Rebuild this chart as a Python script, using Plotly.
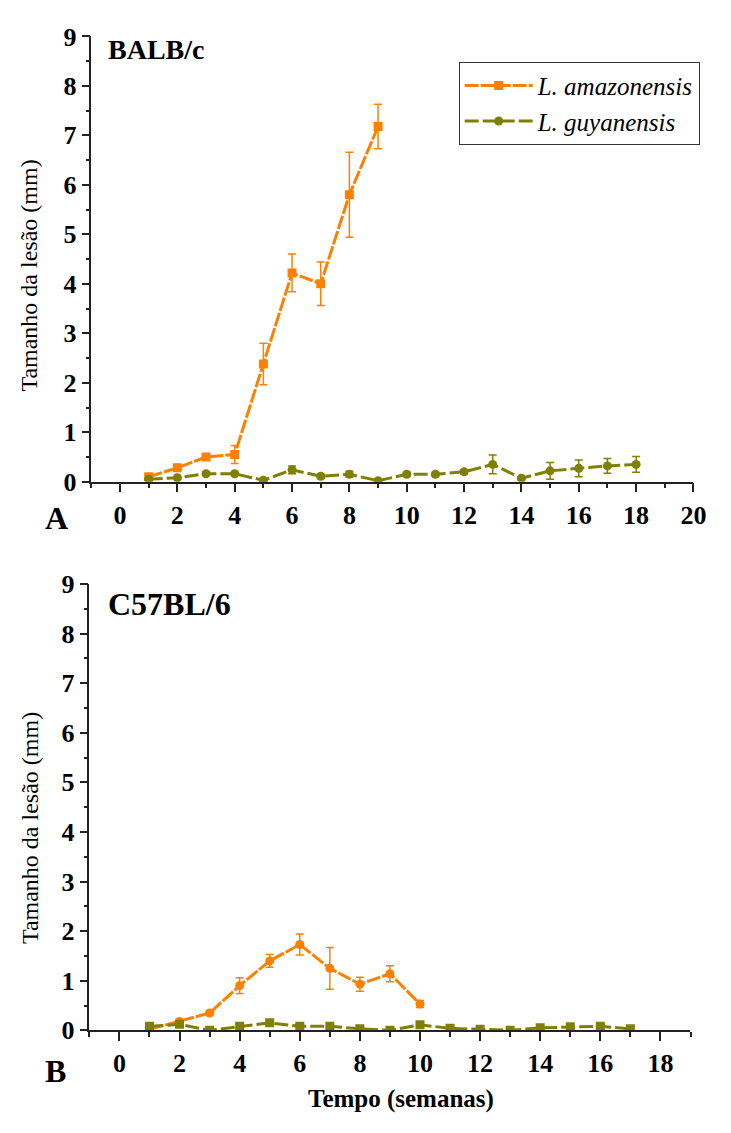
import plotly.graph_objects as go

# ---------- data ----------
weeks_A_am = [1, 2, 3, 4, 5, 6, 7, 8, 9]
am_A = [0.10, 0.28, 0.50, 0.55, 2.38, 4.22, 4.00, 5.80, 7.18]
am_A_err = [0.04, 0.04, 0.06, 0.18, 0.42, 0.38, 0.44, 0.86, 0.45]

weeks_A_gu = list(range(1, 19))
gu_A = [0.05, 0.08, 0.16, 0.16, 0.03, 0.24, 0.11, 0.15, 0.02, 0.15,
        0.15, 0.20, 0.35, 0.07, 0.22, 0.27, 0.32, 0.35]
gu_A_err = [0.02, 0.02, 0.03, 0.03, 0.02, 0.08, 0.04, 0.06, 0.02, 0.04,
            0.04, 0.04, 0.19, 0.03, 0.17, 0.17, 0.15, 0.16]

weeks_B_am = [1, 2, 3, 4, 5, 6, 7, 8, 9, 10]
am_B = [0.02, 0.18, 0.35, 0.90, 1.40, 1.73, 1.25, 0.93, 1.14, 0.53]
am_B_err = [0.02, 0.03, 0.04, 0.16, 0.13, 0.21, 0.42, 0.14, 0.16, 0.07]

weeks_B_gu = list(range(1, 18))
gu_B = [0.08, 0.12, 0.00, 0.08, 0.15, 0.08, 0.08, 0.03, 0.00, 0.11,
        0.04, 0.02, 0.00, 0.05, 0.07, 0.08, 0.03]

names = ["L. amazonensis", "L. guyanensis"]

ORANGE = "#FF8000"
OLIVE = "#808000"
SERIF = "Liberation Serif"
W, H = 731, 1133

def px_x(p):
    return p / W

def px_y(p):
    return 1 - p / H

fig = go.Figure()

def add(x, y, err, color, symbol, dash, xa, ya, name, show):
    fig.add_trace(go.Scatter(
        x=x, y=y, mode="lines+markers", name="<i>" + name + "</i>",
        xaxis=xa, yaxis=ya, showlegend=show,
        line=dict(color=color, width=3, dash=dash),
        marker=dict(symbol=symbol, size=9, color=color),
        error_y=(dict(type="data", array=err, visible=True, color=color,
                      thickness=1.5, width=4) if err is not None else None),
    ))

add(weeks_A_am, am_A, am_A_err, ORANGE, "square", "14px,2px", "x", "y", names[0], True)
add(weeks_A_gu, gu_A, gu_A_err, OLIVE, "circle", "14px,4px", "x", "y", names[1], True)
add(weeks_B_am, am_B, am_B_err, ORANGE, "circle", "14px,2px", "x2", "y2", names[0], False)
add(weeks_B_gu, gu_B, None, OLIVE, "square", "14px,4px", "x2", "y2", names[1], False)

tickfont = dict(family=SERIF, size=26, color="black", weight="bold")

def xaxis(domain, rng, anchor):
    return dict(domain=domain, range=rng, anchor=anchor, showgrid=False, zeroline=False,
                showline=True, linecolor="#222", linewidth=1.5,
                ticks="outside", ticklen=9, tickwidth=1.5, tickcolor="#222",
                tick0=0, dtick=2, tickfont=tickfont,
                minor=dict(dtick=1, ticks="outside", ticklen=5, tickwidth=1.5, tickcolor="#222"))

def yaxis(domain, anchor):
    return dict(domain=domain, range=[0, 9], anchor=anchor, showgrid=False, zeroline=False,
                showline=True, linecolor="#222", linewidth=1.5,
                ticks="outside", ticklen=8, tickwidth=1.5, tickcolor="#222",
                tick0=0, dtick=1, tickfont=tickfont,
                minor=dict(dtick=0.5, ticks="outside", ticklen=4, tickwidth=1.5, tickcolor="#222"))

fig.update_layout(
    width=W, height=H, margin=dict(l=0, r=0, t=0, b=0),
    plot_bgcolor="white", paper_bgcolor="white",
    xaxis=xaxis([px_x(93), px_x(706)], [-1, 20], "y"),
    yaxis=yaxis([px_y(480), px_y(23)], "x"),
    xaxis2=xaxis([px_x(91), px_x(703)], [-1, 19], "y2"),
    yaxis2=yaxis([px_y(1043), px_y(585)], "x2"),
    legend=dict(x=px_x(467), y=px_y(49), xanchor="left", yanchor="top",
                bordercolor="#333", borderwidth=1, bgcolor="white",
                font=dict(family=SERIF, size=25, color="black"),
                tracegroupgap=0, itemwidth=68),
    showlegend=True,
)

def ann(text, x, y, size, bold=False, angle=0, xanchor="left"):
    fig.add_annotation(text=("<b>%s</b>" % text) if bold else text,
                       x=px_x(x), y=px_y(y), xref="paper", yref="paper",
                       xanchor=xanchor, yanchor="middle", showarrow=False,
                       textangle=angle, font=dict(family=SERIF, size=size, color="black"))

ann("BALB/c", 108, 36, 28, bold=True)
ann("C57BL/6", 108, 606, 32, bold=True)
ann("A", 58, 517, 32, bold=True, xanchor="center")
ann("B", 56, 1085, 32, bold=True, xanchor="center")
ann("Tamanho da lesão (mm)", 30, 268, 24, angle=-90, xanchor="center")
ann("Tamanho da lesão (mm)", 30, 835, 24, angle=-90, xanchor="center")
ann("Tempo (semanas)", 408, 1113, 25, bold=True, xanchor="center")

fig.write_html("out.html")
